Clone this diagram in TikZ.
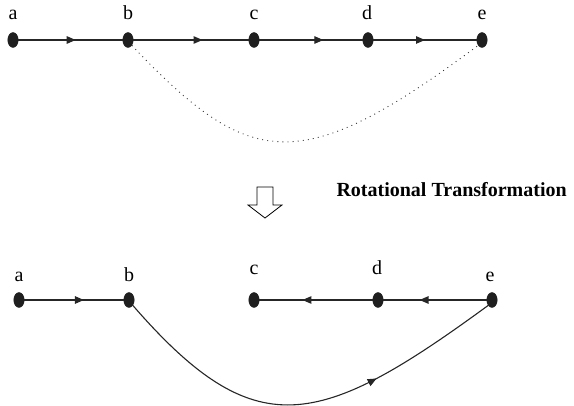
\documentclass[tikz,border=0pt]{standalone}
\usepackage{fontspec}
\setmainfont{Liberation Serif}
\usetikzlibrary{arrows.meta, shapes.geometric, decorations.markings}

\begin{document}
\begin{tikzpicture}[
  x=1pt, y=-1pt,
  font=\fontsize{20}{22}\selectfont,
  dot/.style={ellipse, fill=black!88, draw=black!88, minimum width=10.5pt,
              minimum height=15pt, inner sep=0pt},
  lbl/.style={anchor=base, inner sep=0pt},
  edge/.style={line width=1.1pt, black!85},
  midarrow/.style={postaction={decorate}, decoration={markings,
              mark=at position #1 with {\arrow{Triangle[length=9pt,width=7.5pt]}}}},
  dots/.style={line width=0.9pt, black!80, dash pattern=on 0.9pt off 4.2pt},
]
\useasboundingbox (0,0) rectangle (574,406);

% ---- original path ----
\node[dot] (a1) at (13,40) {};
\node[dot] (b1) at (128,40) {};
\node[dot] (c1) at (254,40) {};
\node[dot] (d1) at (368,40) {};
\node[dot] (e1) at (482,40) {};
\node[lbl] (la1) at (13,20) {a};
\node[lbl] (lb1) at (128,20) {b};
\node[lbl] (lc1) at (254,20) {c};
\node[lbl] (ld1) at (367,20) {d};
\node[lbl] (le1) at (482,20) {e};

\draw[edge, midarrow=0.55] (a1) -- (b1);
\draw[edge, midarrow=0.6] (b1) -- (c1);
\draw[edge, midarrow=0.62] (c1) -- (d1);
\draw[edge, midarrow=0.5] (d1) -- (e1);
\draw[dots] (b1.south east) .. controls (250,170) and (300,178) .. (e1.south west);

% ---- transformation ----
\draw[line width=0.8pt, fill=white] (257,187) -- (257,205) -- (248,205) -- (265,218)
   -- (282,205) -- (273,205) -- (273,187) -- cycle;
\node[anchor=west, font=\fontsize{20}{22}\selectfont\bfseries] (rot) at (333,190)
   {Rotational Transformation};

% ---- rotated path ----
\node[dot] (a2) at (19,300) {};
\node[dot] (b2) at (129,300) {};
\node[dot] (c2) at (254,300) {};
\node[dot] (d2) at (378,300) {};
\node[dot] (e2) at (492,300) {};
\node[lbl] (la2) at (19,282) {a};
\node[lbl] (lb2) at (129,282) {b};
\node[lbl] (lc2) at (254,275) {c};
\node[lbl] (ld2) at (377,275) {d};
\node[lbl] (le2) at (490,282) {e};

\draw[edge, midarrow=0.6] (a2) -- (b2);
\draw[edge, midarrow=0.62] (d2) -- (c2);
\draw[edge, midarrow=0.65] (e2) -- (d2);
\draw[edge, midarrow=0.68] (b2.south east) .. controls (255,446) and (318,430) .. (e2.south west);
\end{tikzpicture}
\end{document}
